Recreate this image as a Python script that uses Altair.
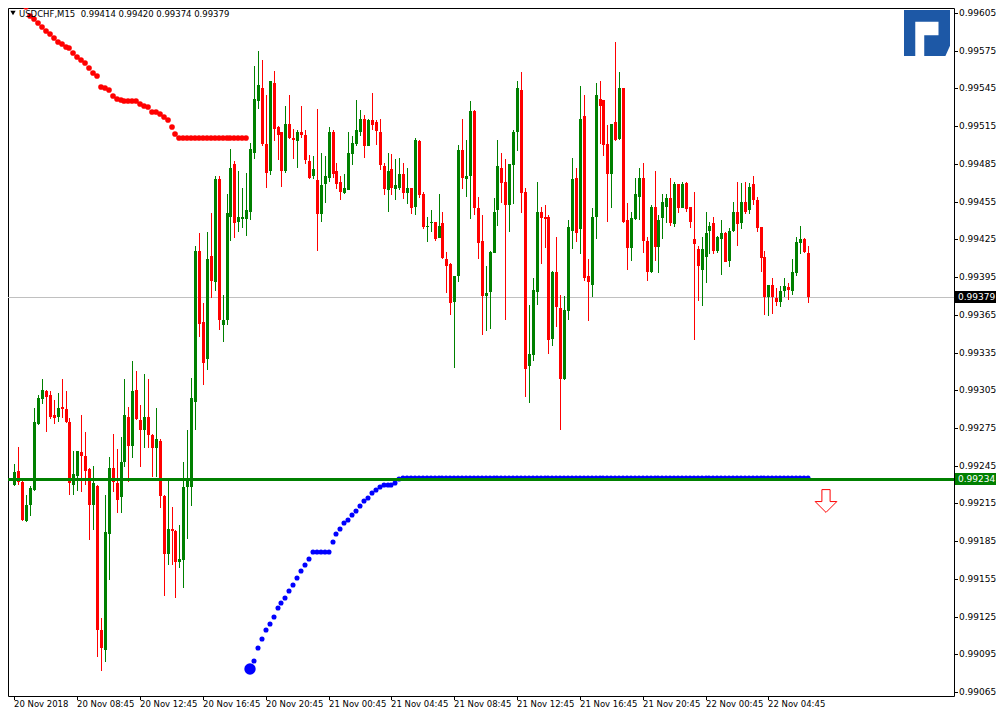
import altair as alt
import pandas as pd

# ---------------- data (USDCHF M15) ----------------
opens = [
    0.99230, 0.99241, 0.99232, 0.99201, 0.99214, 0.99226, 0.99278, 0.99298, 0.99304, 0.99301,
    0.99285, 0.99284, 0.99292, 0.99290, 0.99280, 0.99230, 0.99237, 0.99256, 0.99253, 0.99242,
    0.99214, 0.99229, 0.99114, 0.99098, 0.99191, 0.99243, 0.99231, 0.99220, 0.99248, 0.99284,
    0.99261, 0.99305, 0.99281, 0.99273, 0.99284, 0.99269, 0.99259, 0.99265, 0.99221, 0.99175,
    0.99195, 0.99193, 0.99168, 0.99170, 0.99228, 0.99228, 0.99296, 0.99416, 0.99359, 0.99330,
    0.99412, 0.99391, 0.99473, 0.99357, 0.99361, 0.99443, 0.99485, 0.99439, 0.99441, 0.99441,
    0.99447, 0.99494, 0.99535, 0.99545, 0.99501, 0.99479, 0.99549, 0.99514, 0.99510, 0.99479,
    0.99517, 0.99506, 0.99503, 0.99510, 0.99508, 0.99487, 0.99475, 0.99472, 0.99445, 0.99469,
    0.99474, 0.99510, 0.99479, 0.99471, 0.99462, 0.99464, 0.99493, 0.99501, 0.99510, 0.99521,
    0.99499, 0.99520, 0.99518, 0.99510, 0.99483, 0.99464, 0.99481, 0.99465, 0.99466, 0.99477,
    0.99462, 0.99466, 0.99451, 0.99503, 0.99461, 0.99435, 0.99438, 0.99439, 0.99426, 0.99438,
    0.99409, 0.99405, 0.99375, 0.99396, 0.99496, 0.99473, 0.99475, 0.99527, 0.99450, 0.99424,
    0.99380, 0.99383, 0.99414, 0.99448, 0.99482, 0.99471, 0.99452, 0.99484, 0.99510, 0.99544,
    0.99463, 0.99324, 0.99333, 0.99383, 0.99447, 0.99443, 0.99443, 0.99346, 0.99399, 0.99370,
    0.99314, 0.99368, 0.99432, 0.99474, 0.99433, 0.99523, 0.99396, 0.99389, 0.99443, 0.99537,
    0.99536, 0.99501, 0.99477, 0.99518, 0.99505, 0.99545, 0.99440, 0.99418, 0.99441, 0.99459,
    0.99474, 0.99424, 0.99399, 0.99451, 0.99419, 0.99442, 0.99451, 0.99458, 0.99437, 0.99469,
    0.99450, 0.99470, 0.99451, 0.99425, 0.99417, 0.99401, 0.99411, 0.99432, 0.99438, 0.99416,
    0.99425, 0.99430, 0.99408, 0.99432, 0.99447, 0.99438, 0.99455, 0.99448, 0.99469, 0.99456,
    0.99435, 0.99411, 0.99379, 0.99389, 0.99378, 0.99375, 0.99384, 0.99387, 0.99384, 0.99398,
    0.99422, 0.99425, 0.99414,
]
highs = [
    0.99246, 0.99260, 0.99233, 0.99222, 0.99229, 0.99291, 0.99301, 0.99314, 0.99305, 0.99304,
    0.99297, 0.99303, 0.99314, 0.99304, 0.99283, 0.99257, 0.99257, 0.99285, 0.99272, 0.99243,
    0.99245, 0.99230, 0.99124, 0.99222, 0.99252, 0.99270, 0.99258, 0.99268, 0.99314, 0.99292,
    0.99328, 0.99320, 0.99293, 0.99318, 0.99314, 0.99270, 0.99291, 0.99266, 0.99222, 0.99233,
    0.99212, 0.99194, 0.99198, 0.99248, 0.99273, 0.99315, 0.99420, 0.99430, 0.99374, 0.99431,
    0.99446, 0.99475, 0.99475, 0.99381, 0.99461, 0.99497, 0.99487, 0.99479, 0.99466, 0.99478,
    0.99502, 0.99563, 0.99575, 0.99568, 0.99540, 0.99551, 0.99559, 0.99515, 0.99510, 0.99531,
    0.99540, 0.99513, 0.99512, 0.99531, 0.99512, 0.99492, 0.99491, 0.99529, 0.99494, 0.99491,
    0.99514, 0.99512, 0.99486, 0.99475, 0.99477, 0.99510, 0.99507, 0.99536, 0.99528, 0.99524,
    0.99521, 0.99541, 0.99520, 0.99521, 0.99486, 0.99494, 0.99493, 0.99489, 0.99490, 0.99486,
    0.99482, 0.99466, 0.99506, 0.99504, 0.99463, 0.99443, 0.99448, 0.99439, 0.99461, 0.99447,
    0.99415, 0.99406, 0.99396, 0.99500, 0.99521, 0.99504, 0.99535, 0.99528, 0.99459, 0.99444,
    0.99404, 0.99416, 0.99458, 0.99504, 0.99494, 0.99489, 0.99485, 0.99512, 0.99551, 0.99558,
    0.99466, 0.99373, 0.99394, 0.99471, 0.99451, 0.99452, 0.99444, 0.99400, 0.99427, 0.99381,
    0.99380, 0.99440, 0.99490, 0.99482, 0.99547, 0.99540, 0.99409, 0.99450, 0.99549, 0.99551,
    0.99536, 0.99516, 0.99517, 0.99582, 0.99558, 0.99545, 0.99454, 0.99447, 0.99474, 0.99482,
    0.99486, 0.99427, 0.99452, 0.99479, 0.99444, 0.99461, 0.99461, 0.99474, 0.99471, 0.99469,
    0.99471, 0.99471, 0.99451, 0.99463, 0.99420, 0.99427, 0.99447, 0.99439, 0.99443, 0.99428,
    0.99440, 0.99431, 0.99434, 0.99455, 0.99471, 0.99470, 0.99471, 0.99470, 0.99475, 0.99459,
    0.99435, 0.99416, 0.99389, 0.99394, 0.99386, 0.99388, 0.99394, 0.99390, 0.99409, 0.99427,
    0.99436, 0.99426, 0.99420,
]
lows = [
    0.99229, 0.99230, 0.99201, 0.99200, 0.99205, 0.99225, 0.99277, 0.99294, 0.99272, 0.99282,
    0.99278, 0.99280, 0.99283, 0.99279, 0.99222, 0.99222, 0.99225, 0.99224, 0.99230, 0.99186,
    0.99194, 0.99093, 0.99082, 0.99089, 0.99154, 0.99224, 0.99207, 0.99207, 0.99244, 0.99232,
    0.99251, 0.99281, 0.99244, 0.99259, 0.99259, 0.99236, 0.99236, 0.99211, 0.99141, 0.99166,
    0.99166, 0.99140, 0.99164, 0.99148, 0.99187, 0.99213, 0.99273, 0.99347, 0.99309, 0.99321,
    0.99378, 0.99384, 0.99353, 0.99343, 0.99357, 0.99424, 0.99426, 0.99431, 0.99434, 0.99428,
    0.99440, 0.99489, 0.99529, 0.99499, 0.99466, 0.99476, 0.99503, 0.99488, 0.99467, 0.99478,
    0.99505, 0.99489, 0.99482, 0.99506, 0.99485, 0.99473, 0.99473, 0.99416, 0.99439, 0.99454,
    0.99471, 0.99474, 0.99465, 0.99456, 0.99461, 0.99464, 0.99484, 0.99499, 0.99507, 0.99490,
    0.99499, 0.99512, 0.99500, 0.99480, 0.99460, 0.99447, 0.99460, 0.99456, 0.99464, 0.99457,
    0.99453, 0.99445, 0.99444, 0.99458, 0.99433, 0.99423, 0.99431, 0.99424, 0.99426, 0.99409,
    0.99382, 0.99365, 0.99323, 0.99391, 0.99465, 0.99459, 0.99441, 0.99444, 0.99409, 0.99349,
    0.99352, 0.99354, 0.99414, 0.99436, 0.99454, 0.99361, 0.99431, 0.99453, 0.99495, 0.99446,
    0.99300, 0.99295, 0.99328, 0.99373, 0.99405, 0.99418, 0.99334, 0.99340, 0.99355, 0.99273,
    0.99313, 0.99361, 0.99417, 0.99423, 0.99413, 0.99392, 0.99360, 0.99379, 0.99425, 0.99501,
    0.99491, 0.99439, 0.99450, 0.99503, 0.99504, 0.99438, 0.99401, 0.99408, 0.99440, 0.99440,
    0.99414, 0.99392, 0.99398, 0.99408, 0.99398, 0.99425, 0.99438, 0.99436, 0.99435, 0.99446,
    0.99450, 0.99447, 0.99434, 0.99345, 0.99376, 0.99372, 0.99390, 0.99413, 0.99413, 0.99414,
    0.99397, 0.99407, 0.99403, 0.99431, 0.99420, 0.99433, 0.99445, 0.99445, 0.99452, 0.99431,
    0.99399, 0.99365, 0.99364, 0.99366, 0.99372, 0.99371, 0.99379, 0.99377, 0.99381, 0.99396,
    0.99413, 0.99414, 0.99374,
]
closes = [
    0.99240, 0.99232, 0.99202, 0.99214, 0.99227, 0.99280, 0.99299, 0.99305, 0.99300, 0.99284,
    0.99283, 0.99291, 0.99290, 0.99280, 0.99231, 0.99238, 0.99257, 0.99253, 0.99241, 0.99214,
    0.99231, 0.99114, 0.99100, 0.99192, 0.99243, 0.99232, 0.99218, 0.99248, 0.99285, 0.99261,
    0.99304, 0.99282, 0.99273, 0.99284, 0.99269, 0.99259, 0.99266, 0.99221, 0.99175, 0.99195,
    0.99193, 0.99168, 0.99171, 0.99228, 0.99233, 0.99299, 0.99416, 0.99358, 0.99327, 0.99409,
    0.99392, 0.99473, 0.99361, 0.99361, 0.99446, 0.99482, 0.99438, 0.99443, 0.99443, 0.99448,
    0.99497, 0.99537, 0.99548, 0.99501, 0.99478, 0.99551, 0.99513, 0.99508, 0.99479, 0.99517,
    0.99506, 0.99504, 0.99510, 0.99508, 0.99488, 0.99474, 0.99481, 0.99445, 0.99468, 0.99475,
    0.99510, 0.99477, 0.99469, 0.99463, 0.99466, 0.99494, 0.99502, 0.99512, 0.99521, 0.99499,
    0.99520, 0.99516, 0.99511, 0.99484, 0.99465, 0.99479, 0.99466, 0.99468, 0.99477, 0.99462,
    0.99466, 0.99450, 0.99504, 0.99460, 0.99435, 0.99436, 0.99439, 0.99425, 0.99436, 0.99410,
    0.99404, 0.99374, 0.99396, 0.99496, 0.99474, 0.99475, 0.99527, 0.99450, 0.99422, 0.99380,
    0.99382, 0.99415, 0.99447, 0.99483, 0.99470, 0.99452, 0.99485, 0.99510, 0.99545, 0.99462,
    0.99322, 0.99334, 0.99385, 0.99447, 0.99442, 0.99441, 0.99345, 0.99399, 0.99371, 0.99314,
    0.99369, 0.99435, 0.99473, 0.99430, 0.99521, 0.99394, 0.99391, 0.99443, 0.99540, 0.99531,
    0.99500, 0.99477, 0.99517, 0.99504, 0.99545, 0.99439, 0.99418, 0.99442, 0.99461, 0.99474,
    0.99424, 0.99399, 0.99451, 0.99419, 0.99440, 0.99455, 0.99458, 0.99438, 0.99469, 0.99450,
    0.99469, 0.99449, 0.99439, 0.99421, 0.99404, 0.99417, 0.99430, 0.99436, 0.99416, 0.99427,
    0.99430, 0.99407, 0.99432, 0.99447, 0.99437, 0.99455, 0.99447, 0.99467, 0.99456, 0.99434,
    0.99410, 0.99379, 0.99389, 0.99379, 0.99375, 0.99384, 0.99388, 0.99385, 0.99399, 0.99423,
    0.99425, 0.99415, 0.99379,
]

# upper (red) dotted indicator, starting at bar 3
red_start = 3
red_dots = [
    0.99610, 0.99603, 0.99600, 0.99597, 0.99594, 0.99591, 0.99588, 0.99585, 0.99582, 0.99580,
    0.99578, 0.99577, 0.99573, 0.99570, 0.99568, 0.99565, 0.99561, 0.99557, 0.99555, 0.99546,
    0.99545, 0.99544, 0.99539, 0.99537, 0.99536, 0.99535, 0.99535, 0.99535, 0.99535, 0.99533,
    0.99531, 0.99530, 0.99526, 0.99526, 0.99525, 0.99522, 0.99520, 0.99514, 0.99509,
] + [0.99506] * 18

# lower (blue) dotted indicator, starting at bar 60
blue_start = 60
blue_dots = [
    0.99083, 0.99090, 0.99100, 0.99107, 0.99114, 0.99119, 0.99125, 0.99132, 0.99136, 0.99140,
    0.99145, 0.99150, 0.99156, 0.99161, 0.99166, 0.99171, 0.99176, 0.99176, 0.99176, 0.99176,
    0.99176, 0.99184, 0.99191, 0.99195, 0.99199, 0.99202, 0.99206, 0.99209, 0.99213, 0.99217,
    0.99219, 0.99223, 0.99226, 0.99228, 0.99230, 0.99230, 0.99230, 0.99231, 0.99234,
] + [0.99235] * 104

level_price = 0.99234          # green horizontal level
arrow_bar, arrow_price = 206.8, 0.99217   # red sell arrow

time_ticks = [0, 16, 32, 48, 64, 80, 96, 112, 128, 144, 160, 176, 192]
time_labels = ["20 Nov 2018", "20 Nov 08:45", "20 Nov 12:45", "20 Nov 16:45", "20 Nov 20:45",
               "21 Nov 00:45", "21 Nov 04:45", "21 Nov 08:45", "21 Nov 12:45", "21 Nov 16:45",
               "21 Nov 20:45", "22 Nov 00:45", "22 Nov 04:45"]
price_ticks = [0.99065, 0.99095, 0.99125, 0.99155, 0.99185, 0.99215, 0.99245, 0.99275, 0.99305,
               0.99335, 0.99365, 0.99395, 0.99425, 0.99455, 0.99485, 0.99515, 0.99545, 0.99575,
               0.99605]
symbol = "USDCHF,M15"

# ---------------- layout / style ----------------
W, H = 946, 688
PAD_R, PAD_B = 42, 15
X_DOM = [-0.378, 238.0]
Y_DOM = [0.990618, 0.996090]
UP, DOWN = "#008000", "#ff0000"
FONT = "DejaVu Sans"
FS = 8.5
FSY = 9
MIN_BODY = 0.000008

rows = []
for i, (o, h, l, c) in enumerate(zip(opens, highs, lows, closes)):
    top, bot = max(o, c), min(o, c)
    if top - bot < MIN_BODY:
        top = bot + MIN_BODY
    rows.append(dict(i=i, o=o, h=max(h, top), l=min(l, bot), c=c, top=top, bot=bot,
                     dir="up" if c >= o else "down"))
candles = pd.DataFrame(rows)

red_df = pd.DataFrame({"i": [red_start + k for k in range(len(red_dots))], "p": red_dots})
blue_df = pd.DataFrame({"i": [blue_start + k for k in range(len(blue_dots))], "p": blue_dots,
                        "s": [130 if k == 0 else 26 for k in range(len(blue_dots))]})
xlab_df = pd.DataFrame({"i": time_ticks, "label": time_labels})
ylab_df = pd.DataFrame({"p": price_ticks, "label": [f"{v:.5f}" for v in price_ticks]})

xs = alt.Scale(domain=X_DOM, nice=False, zero=False, round=True)
ys = alt.Scale(domain=Y_DOM, nice=False, zero=False, round=True)
col = alt.Color("dir:N", scale=alt.Scale(domain=["up", "down"], range=[UP, DOWN]), legend=None)

base = alt.Chart(candles)
wicks = base.mark_rule(strokeWidth=1, clip=True, xOffset=0.5).encode(
    x=alt.X("i:Q", scale=xs, axis=None),
    y=alt.Y("l:Q", scale=ys, axis=None),
    y2="h:Q",
    color=col,
)
bodies = base.mark_bar(size=3, clip=True, xOffset=0.5).encode(
    x=alt.X("i:Q", scale=xs, axis=None),
    y=alt.Y("bot:Q", scale=ys, axis=None),
    y2="top:Q",
    color=col,
)

# axis ticks and labels (drawn as marks, outside the plot frame)
xticks = alt.Chart(xlab_df).mark_rule(color="black", strokeWidth=1, clip=False, xOffset=0.5).encode(
    x=alt.X("i:Q", scale=xs, axis=None), y=alt.value(H), y2=alt.value(H + 4))
xlabels = alt.Chart(xlab_df).mark_text(
    align="left", baseline="top", font=FONT, fontSize=FS, color="black", clip=False
).encode(x=alt.X("i:Q", scale=xs, axis=None), y=alt.value(H + 4), text="label:N")
yticks = alt.Chart(ylab_df).mark_rule(color="black", strokeWidth=1, clip=False, yOffset=0.5).encode(
    y=alt.Y("p:Q", scale=ys, axis=None), x=alt.value(W), x2=alt.value(W + 4))
ylabels = alt.Chart(ylab_df).mark_text(
    align="left", baseline="middle", font=FONT, fontSize=FSY, color="black", clip=False
).encode(y=alt.Y("p:Q", scale=ys, axis=None), x=alt.value(W + 5), text="label:N")

bid_line = alt.Chart(pd.DataFrame({"p": [closes[-1]]})).mark_rule(
    color="#c0c0c0", strokeWidth=1, yOffset=0.5
).encode(y=alt.Y("p:Q", scale=ys, axis=None))

level_line = alt.Chart(pd.DataFrame({"p": [level_price]})).mark_rule(
    color=UP, strokeWidth=3, yOffset=0.5
).encode(y=alt.Y("p:Q", scale=ys, axis=None))

red_pts = alt.Chart(red_df).mark_circle(color="#ff0000", opacity=1, size=32, clip=True).encode(
    x=alt.X("i:Q", scale=xs, axis=None), y=alt.Y("p:Q", scale=ys, axis=None))
blue_pts = alt.Chart(blue_df).mark_circle(color="#0000ff", opacity=1, clip=True).encode(
    x=alt.X("i:Q", scale=xs, axis=None), y=alt.Y("p:Q", scale=ys, axis=None),
    size=alt.Size("s:Q", scale=None, legend=None))

ARROW = "M -0.36 -1 L 0.36 -1 L 0.36 0.05 L 0.95 0.05 L 0 1 L -0.95 0.05 L -0.36 0.05 Z"
arrow = alt.Chart(pd.DataFrame({"i": [arrow_bar], "p": [arrow_price]})).mark_point(
    shape=ARROW, filled=True, fill="white", stroke="#ff0000", strokeWidth=1, size=520, opacity=1
).encode(x=alt.X("i:Q", scale=xs, axis=None), y=alt.Y("p:Q", scale=ys, axis=None))

LOGO = ("M -1 -1 L 1 -1 L 1 0.55 L 0.8 1 L -0.12 1 L -0.12 0.1 L 0.5 0.1 L 0.5 -0.49 "
        "L -0.51 -0.49 L -0.51 1 L -1 1 Z")
logo = alt.Chart(pd.DataFrame({"k": [0]})).mark_point(
    shape=LOGO, filled=True, fill="#1d58a6", strokeWidth=0, size=2116, opacity=1
).encode(x=alt.value(W - 27), y=alt.value(25))

header = f"{symbol}\u00a0\u00a0{opens[-1]:.5f} {highs[-1]:.5f} {lows[-1]:.5f} {closes[-1]:.5f}"
title = alt.Chart(pd.DataFrame({"t": [header]})).mark_text(
    align="left", baseline="middle", font=FONT, fontSize=FS, color="black"
).encode(x=alt.value(11), y=alt.value(6), text="t:N")
tri = alt.Chart(pd.DataFrame({"k": [0]})).mark_point(
    shape="triangle-down", filled=True, color="black", size=28, opacity=1
).encode(x=alt.value(5), y=alt.value(5))

box_df = pd.DataFrame({
    "p": [closes[-1], level_price],
    "bg": ["black", UP],
    "label": [f"{closes[-1]:.5f}", f"{level_price:.5f}"],
})
boxes = alt.Chart(box_df).mark_rect(clip=False, yOffset=-6, y2Offset=6).encode(
    x=alt.value(W + 1), x2=alt.value(W + PAD_R),
    y=alt.Y("p:Q", scale=ys, axis=None), y2="p:Q",
    color=alt.Color("bg:N", scale=None, legend=None))
box_text = alt.Chart(box_df).mark_text(
    align="left", baseline="middle", font=FONT, fontSize=FSY, color="white", clip=False
).encode(x=alt.value(W + 4), y=alt.Y("p:Q", scale=ys, axis=None), text="label:N")

chart = alt.layer(
    bid_line, wicks, bodies, blue_pts, level_line, red_pts, arrow, logo, tri, title,
    xticks, xlabels, yticks, ylabels, boxes, box_text
).properties(
    width=W, height=H,
    autosize=alt.AutoSizeParams(type="none"),
    padding={"left": 0, "top": 0, "right": PAD_R, "bottom": PAD_B},
).configure(background="white").configure_view(stroke="black", strokeWidth=1)

chart.save("out.html", embed_options={"renderer": "svg", "actions": False})
